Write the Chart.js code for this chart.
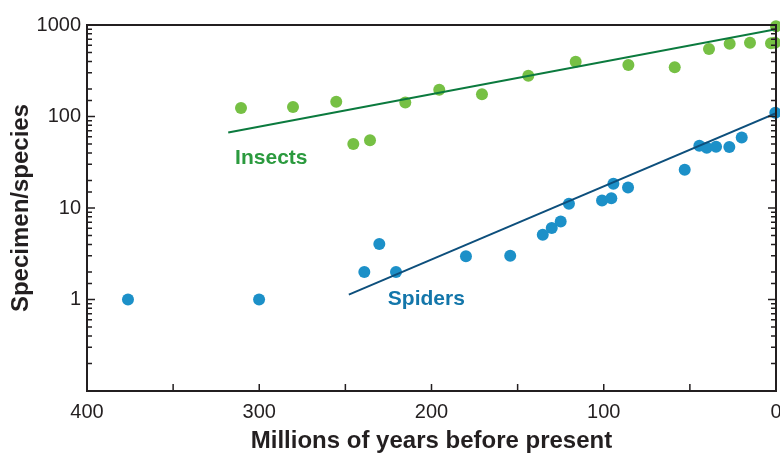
<!DOCTYPE html>
<html>
<head>
<meta charset="utf-8">
<script src="https://cdn.jsdelivr.net/npm/chart.js@4/dist/chart.umd.min.js"></script>
<style>
  html, body { margin: 0; padding: 0; background: #fff; }
  #wrap { width: 780px; height: 456px; }
</style>
</head>
<body>
<div id="wrap"><canvas id="fossilChart"></canvas></div>
<script>
// Insects: age (Myr before present) and specimens per species
const insectAge   = [310.6, 280.4, 255.3, 245.4, 235.7, 215.2, 195.5, 170.7, 143.8, 116.3, 85.7, 58.8, 38.9, 26.9, 15.1, 2.9, 0.6, 0];
const insectCount = [124, 127, 145, 50, 55, 142, 196, 175, 279, 397, 365, 345, 546, 624, 640, 630, 640, 970];

// Spiders
const spiderAge   = [376.2, 300.1, 239, 230.3, 220.6, 180, 154.3, 135.4, 130.2, 125, 120.2, 101, 95.6, 94.4, 85.9, 53, 44.5, 40.2, 34.8, 27.1, 19.9, 0.4];
const spiderCount = [1, 1, 2, 4.05, 2, 2.97, 3, 5.1, 6.05, 7.1, 11.1, 12.1, 12.8, 18.4, 16.8, 26.2, 48, 45.5, 46.6, 46.3, 59, 110];

// fitted trend lines (end points)
const insectFitAge = [318, 0];
const insectFitCount = [67, 900];
const spiderFitAge = [248, 0];
const spiderFitCount = [1.13, 109];

// series labels, placed in data coordinates
const seriesNames = ['Insects', 'Spiders'];
const seriesNameAge = [293, 203];
const seriesNameCount = [35.4, 1];

const ink = '#231f20';

function toPoints(xs, ys) {
  return xs.map((x, i) => ({ x: x, y: ys[i] }));
}

// box + inward ticks, and the two series names
const framePlugin = {
  id: 'frame',
  afterDatasetsDraw(chart) {
    const ctx = chart.ctx;
    const a = chart.chartArea;
    const xs = chart.scales.x;
    const ys = chart.scales.y;
    ctx.save();
    ctx.strokeStyle = ink;
    ctx.lineWidth = 1.5;
    ctx.beginPath();
    ys.ticks.forEach(t => {
      const py = ys.getPixelForValue(t.value);
      const lg = Math.log10(t.value);
      const len = Math.abs(lg - Math.round(lg)) < 1e-6 ? 8 : 5;
      ctx.moveTo(a.left, py); ctx.lineTo(a.left + len, py);
      ctx.moveTo(a.right, py); ctx.lineTo(a.right - len, py);
    });
    xs.ticks.forEach(t => {
      const px = xs.getPixelForValue(t.value);
      ctx.moveTo(px, a.bottom); ctx.lineTo(px, a.bottom - 7);
    });
    ctx.stroke();
    ctx.lineWidth = 2;
    ctx.strokeRect(a.left, a.top, a.right - a.left, a.bottom - a.top);

    ctx.font = 'bold 21px "Liberation Sans", Arial, sans-serif';
    ctx.textAlign = 'center';
    ctx.textBaseline = 'middle';
    const nameColors = ['#2b9a3e', '#1376aa'];
    seriesNames.forEach((name, i) => {
      ctx.fillStyle = nameColors[i];
      ctx.fillText(name, xs.getPixelForValue(seriesNameAge[i]), ys.getPixelForValue(seriesNameCount[i]));
    });
    ctx.restore();
  }
};

new Chart(document.getElementById('fossilChart').getContext('2d'), {
  type: 'scatter',
  data: {
    datasets: [
      {
        type: 'line',
        data: toPoints(insectFitAge, insectFitCount),
        borderColor: '#0b7a3e',
        borderWidth: 2,
        pointRadius: 0,
        fill: false
      },
      {
        type: 'line',
        data: toPoints(spiderFitAge, spiderFitCount),
        borderColor: '#0d4f7c',
        borderWidth: 2,
        pointRadius: 0,
        fill: false
      },
      {
        data: toPoints(insectAge, insectCount),
        backgroundColor: '#76c044',
        borderWidth: 0,
        pointRadius: 6,
        clip: false
      },
      {
        data: toPoints(spiderAge, spiderCount),
        backgroundColor: '#1c90c8',
        borderWidth: 0,
        pointRadius: 6,
        clip: false
      }
    ]
  },
  options: {
    responsive: true,
    maintainAspectRatio: false,
    animation: false,
    layout: { autoPadding: false, padding: { top: 25, right: 4, left: 0, bottom: 0 } },
    plugins: {
      legend: { display: false },
      tooltip: { enabled: false }
    },
    scales: {
      x: {
        type: 'linear',
        reverse: true,
        min: 0,
        max: 400,
        grid: { display: false, drawTicks: false },
        border: { display: false },
        ticks: {
          stepSize: 50,
          padding: 9,
          color: ink,
          font: { family: '"Liberation Sans", Arial, sans-serif', size: 20 },
          callback: v => (v % 100 === 0 ? String(v) : '')
        },
        title: {
          display: true,
          text: 'Millions of years before present',
          color: ink,
          padding: { top: 0, bottom: 0 },
          font: { family: '"Liberation Sans", Arial, sans-serif', size: 24, weight: 'bold' }
        },
        afterFit: s => { s.height = 65; s.paddingLeft = 0; s.paddingRight = 0; }
      },
      y: {
        type: 'logarithmic',
        min: 0.1,
        max: 1000,
        grid: { display: false, drawTicks: false },
        border: { display: false },
        ticks: {
          autoSkip: false,
          padding: 6,
          color: ink,
          font: { family: '"Liberation Sans", Arial, sans-serif', size: 20 },
          callback: v => ([1, 10, 100, 1000].includes(v) ? String(v) : '')
        },
        title: {
          display: true,
          text: 'Specimen/species',
          color: ink,
          padding: { top: 7, bottom: 0 },
          font: { family: '"Liberation Sans", Arial, sans-serif', size: 24, weight: 'bold' }
        },
        afterFit: s => { s.width = 87; s.paddingTop = 0; s.paddingBottom = 0; }
      }
    }
  },
  plugins: [framePlugin]
});
</script>
</body>
</html>
